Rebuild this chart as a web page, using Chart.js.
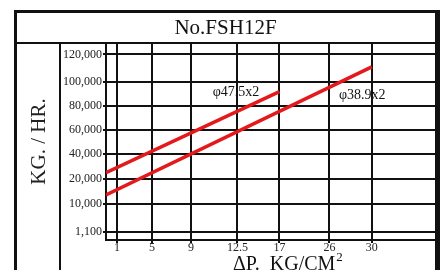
<!DOCTYPE html>
<html>
<head>
<meta charset="utf-8">
<script src="https://cdn.jsdelivr.net/npm/chart.js@4.4.1/dist/chart.umd.min.js"></script>
<style>
  html, body { margin: 0; padding: 0; background: #fff; }
  #wrap { width: 441px; height: 270px; }
</style>
</head>
<body>
<div id="wrap"><canvas id="c" width="441" height="270"></canvas></div>
<script>
// tick values of the two axes (drawn unevenly spaced, as in the print)
const dpTicks   = [1, 5, 9, 12.5, 17, 26, 30];
const flowTicks = [1100, 10000, 20000, 40000, 60000, 80000, 100000, 120000];
const flowLabels = ["1,100", "10,000", "20,000", "40,000", "60,000", "80,000", "100,000", "120,000"];

// where each tick sits along its axis (fraction of plot width / height)
const dpTickAt   = [0.033, 0.139, 0.257, 0.397, 0.524, 0.675, 0.803];
const flowTickAt = [0.041, 0.185, 0.310, 0.437, 0.558, 0.680, 0.802, 0.942];

// series: ΔP (kg/cm2) vs flow (kg/hr)
const dp475   = [0, 17];
const flow475 = [25000, 92000];
const dp389   = [0, 30];
const flow389 = [13500, 111000];

// series captions, anchored in data units
const seriesNames = ["φ47.5x2", "φ38.9x2"];
const nameDp   = [12.4, 29.1];
const nameFlow = [91700, 89000];

const RED = "#e3191c";
const INK = "#111";
const SERIF = "'Liberation Serif', 'Times New Roman', serif";

// piecewise mapping from real units to axis position, origin 0 -> 0
function place(v, vals, at){
  const vs = [0].concat(vals), as = [0].concat(at);
  for(let i=1;i<vs.length;i++){
    if(v <= vs[i] || i === vs.length-1){
      const t = (v - vs[i-1]) / (vs[i] - vs[i-1]);
      return as[i-1] + t*(as[i] - as[i-1]);
    }
  }
}
const px = v => place(v, dpTicks, dpTickAt);
const py = v => place(v, flowTicks, flowTickAt);

function pts(xs, ys){ return xs.map((x,i)=>({x: px(x), y: py(ys[i])})); }

// frame, title row, label column, x title, captions
const framePlugin = {
  id: "frame",
  afterDraw(chart){
    const c = chart.ctx, xs = chart.scales.x, ys = chart.scales.y;
    c.save();
    c.fillStyle = INK;
    c.fillRect(14, 10, 3, 260);     // left
    c.fillRect(14, 10, 426, 3);     // top
    c.fillRect(435, 10, 5, 260);    // right
    c.fillRect(14, 42, 426, 2);     // under title
    c.fillRect(59, 43, 2, 227);     // y-title column

    // captions
    c.font = "14px " + SERIF;
    c.textAlign = "center";
    c.textBaseline = "middle";
    seriesNames.forEach((n,i)=>{
      c.fillText(n, xs.getPixelForValue(px(nameDp[i])), ys.getPixelForValue(py(nameFlow[i])));
    });

    // x-axis title with superscript
    c.textAlign = "left";
    c.textBaseline = "alphabetic";
    c.font = "20px " + SERIF;
    const main = "ΔP.  KG/CM";
    c.fillText(main, 233, 270);
    const w = c.measureText(main).width;
    c.font = "13px " + SERIF;
    c.fillText("2", 233 + w + 1, 261);
    c.restore();
  }
};

new Chart(document.getElementById("c"), {
  type: "line",
  data: {
    datasets: [
      {label: seriesNames[0], data: pts(dp475, flow475), borderColor: RED, borderWidth: 3.5, pointRadius: 0, tension: 0},
      {label: seriesNames[1], data: pts(dp389, flow389), borderColor: RED, borderWidth: 3.5, pointRadius: 0, tension: 0}
    ]
  },
  options: {
    responsive: false,
    animation: false,
    layout: {padding: {left: 14, top: 13, right: 4, bottom: 0}},
    plugins: {
      legend: {display: false},
      tooltip: {enabled: false},
      title: {
        display: true, text: "No.FSH12F", color: INK,
        font: {family: SERIF, size: 21, weight: "normal"},
        padding: {top: 3, bottom: 1.8}
      }
    },
    scales: {
      x: {
        type: "linear", min: 0, max: 1,
        afterBuildTicks: s => { s.ticks = dpTickAt.map(v => ({value: v})); },
        afterFit: s => { s.height = 30; },
        ticks: {
          autoSkip: false, maxRotation: 0, padding: -2, color: "#222",
          font: {family: SERIF, size: 12},
          callback: (v, i) => String(dpTicks[i])
        },
        grid: {color: INK, lineWidth: 2, tickLength: 3},
        border: {color: INK, width: 2}
      },
      y: {
        type: "linear", min: 0, max: 1,
        afterBuildTicks: s => { s.ticks = flowTickAt.map(v => ({value: v})); },
        afterFit: s => { s.width = 92; },
        ticks: {
          autoSkip: false, padding: 1, color: "#222",
          font: {family: SERIF, size: 12},
          callback: (v, i) => flowLabels[i]
        },
        grid: {color: INK, lineWidth: 2, tickLength: 3},
        border: {color: INK, width: 2},
        title: {
          display: true, text: "KG. / HR.", color: "#222",
          font: {family: SERIF, size: 21},
          padding: {top: 13, bottom: 0}
        }
      }
    }
  },
  plugins: [framePlugin]
});
</script>
</body>
</html>
